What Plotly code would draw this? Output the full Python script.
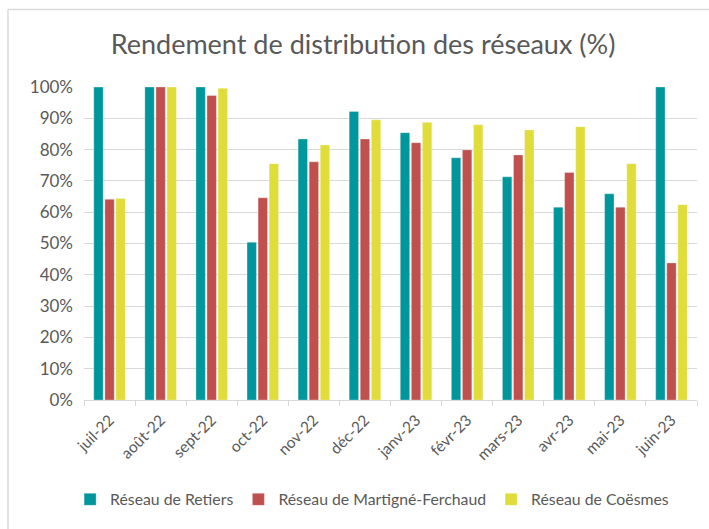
import plotly.graph_objects as go

months = ["juil-22", "août-22", "sept-22", "oct-22", "nov-22", "déc-22",
          "janv-23", "févr-23", "mars-23", "avr-23", "mai-23", "juin-23"]
retiers = [1.00, 1.00, 1.00, 0.504, 0.834, 0.922, 0.854, 0.774, 0.713, 0.616, 0.659, 1.00]
martigne = [0.641, 1.00, 0.973, 0.646, 0.761, 0.834, 0.822, 0.799, 0.783, 0.727, 0.616, 0.438]
coesmes = [0.644, 1.00, 0.996, 0.755, 0.815, 0.895, 0.887, 0.879, 0.863, 0.873, 0.755, 0.624]

series = [
    ("Réseau de Retiers", retiers, "#00979C"),
    ("Réseau de Martigné-Ferchaud", martigne, "#C0504D"),
    ("Réseau de Coësmes", coesmes, "#E0DC3A"),
]

font_family = "Lato, 'Open Sans', sans-serif"

fig = go.Figure()
for name, vals, col in series:
    fig.add_trace(go.Bar(
        x=months, y=vals, name=name,
        marker=dict(color=col, line=dict(color="rgba(255,255,255,0.5)", width=0.6)),
    ))

fig.update_layout(
    width=709, height=529,
    margin=dict(l=84, r=12, t=87, b=129, autoexpand=False),
    paper_bgcolor="white", plot_bgcolor="white",
    barmode="group", bargap=0.35, bargroupgap=0.15,
    font=dict(family=font_family, color="#595959", size=14),
    title=dict(text="Rendement de distribution des réseaux (%)",
               x=0.512, xanchor="center", y=0.915, yanchor="middle",
               font=dict(size=27, color="#595959", family=font_family)),
    legend=dict(orientation="h", x=0.47, xanchor="center", y=-0.318, yanchor="middle",
                font=dict(size=15.8, color="#595959"), itemwidth=30,
                traceorder="normal", tracegroupgap=0),
    showlegend=True,
)
fig.update_yaxes(range=[0, 1.0], dtick=0.1, tickformat=".0%",
                 showgrid=True, gridcolor="#D9D9D9", gridwidth=1,
                 zeroline=False, showline=False, ticks="",
                 tickfont=dict(size=17, color="#595959"), ticklabelstandoff=10,
                 automargin=False)
fig.update_xaxes(type="category", showline=True, linecolor="#D9D9D9", linewidth=1,
                 ticks="outside", tickson="boundaries", ticklen=5, tickcolor="#D9D9D9",
                 tickangle=-45, tickfont=dict(size=15.5, color="#595959"),
                 ticklabelstandoff=4, automargin=False)

# chart frame (top and left edges)
fig.add_shape(type="line", xref="paper", yref="paper",
              x0=(8 - 84) / 613, x1=1.03, y0=(400 - 9.5) / 313, y1=(400 - 9.5) / 313,
              line=dict(color="#D9D9D9", width=1.5))
fig.add_shape(type="line", xref="paper", yref="paper",
              x0=(8 - 84) / 613, x1=(8 - 84) / 613, y0=(400 - 9.5) / 313, y1=-0.45,
              line=dict(color="#D9D9D9", width=1.5))

fig.write_html("out.html", config={"displayModeBar": False},
               post_script="document.body.style.margin='0';document.body.style.padding='0';")
